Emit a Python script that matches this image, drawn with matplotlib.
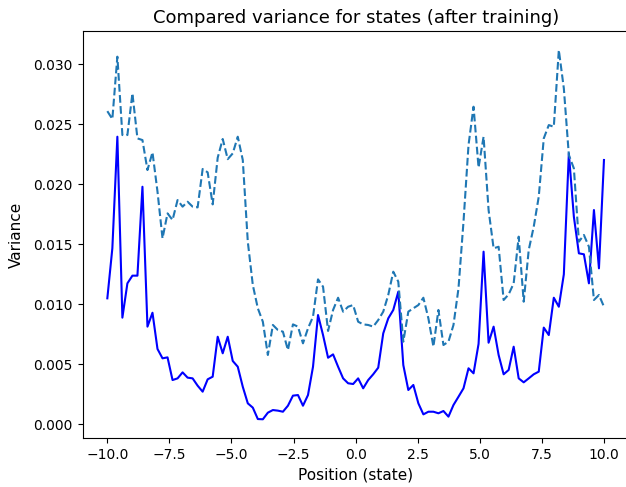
import numpy as np
import matplotlib
matplotlib.use("Agg")
import matplotlib.pyplot as plt

# state grid: 100 evenly spaced positions between -10 and 10
positions = np.linspace(-10, 10, 100)

# per-state variance of the trained model
variance_trained = [
    0.0105, 0.01467, 0.02397, 0.00889, 0.01175, 0.01239, 0.01239, 0.0198, 0.00814, 0.0093,
    0.00628, 0.0055, 0.00558, 0.00369, 0.00383, 0.00433, 0.00389, 0.00383, 0.00322, 0.00272,
    0.00375, 0.00397, 0.0073, 0.00592, 0.0073, 0.00528, 0.0048, 0.00313, 0.00175, 0.00139,
    0.00044, 0.00042, 0.00097, 0.00119, 0.00114, 0.00105, 0.00155, 0.00239, 0.00244, 0.00155,
    0.00244, 0.0048, 0.00911, 0.00744, 0.00555, 0.00583, 0.0048, 0.00383, 0.00342, 0.00336,
    0.00383, 0.0030, 0.00369, 0.00417, 0.00472, 0.00758, 0.00883, 0.00953, 0.01105, 0.00494,
    0.00286, 0.00328, 0.00175, 0.00083, 0.00105, 0.00105, 0.00092, 0.00111, 0.00064, 0.00161,
    0.0023, 0.0030, 0.00467, 0.00425, 0.0067, 0.01439, 0.0068, 0.00814, 0.00578, 0.00417,
    0.00453, 0.00647, 0.00383, 0.0035, 0.00383, 0.00417, 0.00439, 0.00806, 0.00744, 0.01055,
    0.0098, 0.0125, 0.02258, 0.0173, 0.01425, 0.01417, 0.01175, 0.01786, 0.013, 0.02203,
]

# reference variance the trained model is compared against
variance_reference = [
    0.0261, 0.02544, 0.03064, 0.02411, 0.02411, 0.02758, 0.02383, 0.02369, 0.02119, 0.02267,
    0.01939, 0.0155, 0.01758, 0.01703, 0.01869, 0.01814, 0.01855, 0.01814, 0.01808, 0.02128,
    0.021, 0.01833, 0.02222, 0.02378, 0.0221, 0.02258, 0.02397, 0.02203, 0.01522, 0.01161,
    0.00967, 0.00855, 0.00578, 0.00828, 0.00786, 0.00772, 0.00619, 0.00833, 0.00814, 0.00675,
    0.008, 0.00897, 0.01208, 0.01147, 0.00778, 0.00953, 0.01055, 0.00939, 0.0098, 0.00994,
    0.00855, 0.00833, 0.00828, 0.00814, 0.00869, 0.00939, 0.01078, 0.01272, 0.01189, 0.00689,
    0.00939, 0.00967, 0.00994, 0.01055, 0.00883, 0.00647, 0.00953, 0.00661, 0.00689, 0.00828,
    0.01133, 0.01689, 0.02328, 0.02647, 0.0214, 0.02397, 0.01786, 0.01467, 0.0148, 0.01036,
    0.01083, 0.01175, 0.01564, 0.01022, 0.01453, 0.01647, 0.01897, 0.02383, 0.02494, 0.0248,
    0.03119, 0.028, 0.02244, 0.02133, 0.01522, 0.01578, 0.0148, 0.01036, 0.01078, 0.0098,
]

fig = plt.figure(figsize=(6.26, 4.87), dpi=100)
# the right spine sits just past the figure edge
ax = fig.add_axes([82.5 / 626, 49 / 487, 546.3 / 626, 407 / 487])

ax.plot(positions, variance_trained, color="b", linewidth=1.5)
ax.plot(positions, variance_reference, color="#1f77b4", linestyle="--", linewidth=1.5)

ax.set_ylim(-0.00114, 0.03278)
ax.set_yticks([0.0, 0.005, 0.010, 0.015, 0.020, 0.025, 0.030])
ax.set_xticks([-10.0, -7.5, -5.0, -2.5, 0.0, 2.5, 5.0, 7.5, 10.0])
ax.yaxis.set_major_formatter(matplotlib.ticker.FormatStrFormatter("%.3f"))

ax.set_title("Compared variance for states (after training)", fontsize=13)
ax.set_xlabel("Position (state)", fontsize=11)
ax.set_ylabel("Variance", fontsize=11, labelpad=7)

fig.savefig("out.png", dpi=100)
